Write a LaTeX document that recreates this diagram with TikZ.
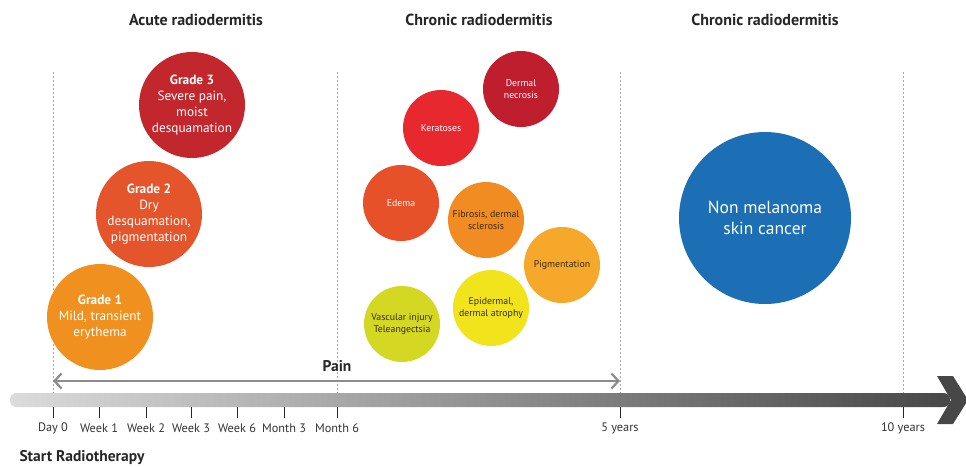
\documentclass[tikz,border=0pt]{standalone}
\usepackage{fontspec}
\setmainfont{PT Sans}
\usetikzlibrary{arrows.meta}
\definecolor{cgThree}{HTML}{C1272D}
\definecolor{cgTwo}{HTML}{E4552C}
\definecolor{cgOne}{HTML}{F0901E}
\definecolor{cNecro}{HTML}{BE1E2D}
\definecolor{cKera}{HTML}{E8282F}
\definecolor{cEdema}{HTML}{E6512A}
\definecolor{cFibro}{HTML}{F08C21}
\definecolor{cPigm}{HTML}{F6A82B}
\definecolor{cEpid}{HTML}{F1E41C}
\definecolor{cVasc}{HTML}{D5D823}
\definecolor{cBlue}{HTML}{1C6EB5}
\definecolor{darktxt}{HTML}{3A2A12}
\definecolor{guide}{HTML}{A8A8A8}
\begin{document}
\begin{tikzpicture}[x=1pt,y=-1pt,
  bubble/.style={circle,inner sep=0pt,align=center,text=white},
  small/.style={bubble,minimum size=76pt,font=\fontsize{9.8}{12}\selectfont},
  big/.style={bubble,minimum size=106pt,font=\fontsize{13.3}{16}\selectfont},
  head/.style={font=\fontsize{16}{18}\selectfont\bfseries,text=black!85},
  ticklab/.style={font=\fontsize{12.3}{14}\selectfont,text=black!80},
  guideline/.style={guide,line width=0.8pt,dash pattern=on 2pt off 2pt},
  tickmark/.style={black!85,line width=0.8pt}]
\useasboundingbox (0,0) rectangle (966,466);
% headings
\node[head] (h1) at (196,20) {Acute radiodermitis};
\node[head] (h2) at (479,20) {Chronic radiodermitis};
\node[head] (h3) at (765,20) {Chronic radiodermitis};
% guide lines
\foreach \n/\x in {a/53,b/337,c/620,d/903}{
  \coordinate (top\n) at (\x,72);
  \coordinate (bot\n) at (\x,393);
  \draw[guideline] (top\n) -- (bot\n);
}
% acute bubbles
\node[big,fill=cgThree] (g3) at (192,105) {\textbf{Grade 3}\\Severe pain,\\moist\\desquamation};
\node[big,fill=cgTwo] (g2) at (149,214) {\textbf{Grade 2}\\Dry\\desquamation,\\pigmentation};
\node[big,fill=cgOne] (g1) at (100,317) {\textbf{Grade 1}\\Mild, transient\\erythema};
% chronic bubbles
\node[small,fill=cNecro] (necro) at (521,89) {Dermal\\necrosis};
\node[small,fill=cKera] (kera) at (441,128) {Keratoses};
\node[small,fill=cEdema] (edema) at (401,203) {Edema};
\node[small,fill=cFibro,text=darktxt] (fibro) at (486,220) {Fibrosis, dermal\\sclerosis};
\node[small,fill=cPigm,text=darktxt] (pigm) at (562,265) {Pigmentation};
\node[small,fill=cEpid,text=darktxt] (epid) at (491,308) {Epidermal,\\dermal atrophy};
\node[small,fill=cVasc,text=darktxt] (vasc) at (402,324) {Vascular injury\\Teleangectsia};
% cancer
\node[bubble,fill=cBlue,minimum size=172pt,font=\fontsize{17.5}{21}\selectfont] (nmsc) at (765,218) {Non melanoma\\skin cancer};
% pain arrow
\node[font=\fontsize{15.5}{17}\selectfont\bfseries,text=black!85] (pain) at (337,366) {Pain};
\coordinate (painL) at (53,381);
\coordinate (painR) at (620,381);
\draw[black!45,line width=2.6pt,{Straight Barb[length=7pt,width=15pt,line width=2.2pt]}-{Straight Barb[length=7pt,width=15pt,line width=2.2pt]}] (painL) -- (painR);
% band
\shade[left color=black!14,right color=black!72,rounded corners=6.5pt] (10,393) rectangle (950,407);
\fill[black!72] (937,376) -- (953,376) -- (968,400) -- (953,424) -- (937,424) -- (951,400) -- cycle;
% ticks
\foreach \n/\x/\t in {t0/53/Day 0,t1/99/Week 1,t2/146/Week 2,t3/191/Week 3,t4/237/Week 6,t5/284/Month 3,t6/337/Month 6,t7/620/5 years,t8/903/10 years}{
  \coordinate (\n a) at (\x,407);
  \coordinate (\n b) at (\x,418);
  \draw[tickmark] (\n a) -- (\n b);
  \node[ticklab] (\n l) at (\x,428) {\t};
}
\node[font=\fontsize{15.5}{17}\selectfont\bfseries,text=black!85,anchor=west] (start) at (16,458) {Start Radiotherapy};
\end{tikzpicture}
\end{document}
